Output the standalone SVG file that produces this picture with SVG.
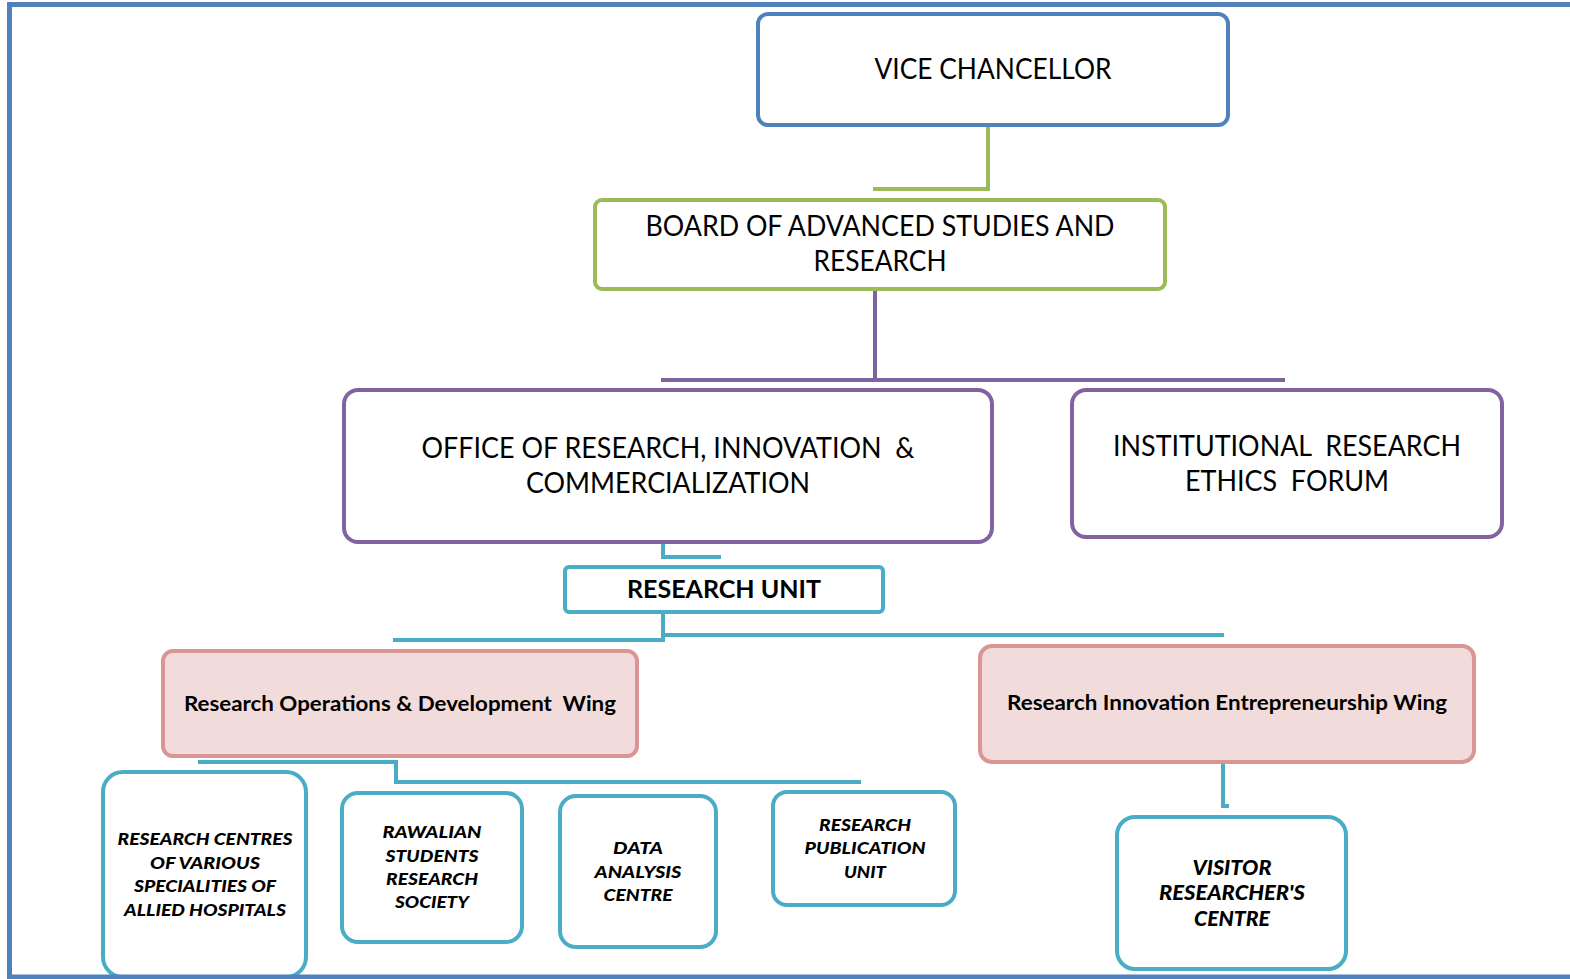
<svg xmlns="http://www.w3.org/2000/svg" width="1570" height="979" viewBox="0 0 1570 979">
  <style>
    .t { font-family: Lato, "Liberation Sans", sans-serif; fill: #000; text-anchor: middle; white-space: pre; }
    .big { font-size: 28px; }
    .unit { font-size: 25px; font-weight: bold; }
    .wing { font-size: 20px; font-weight: bold; }
    .sm { font-size: 17px; font-weight: 900; font-style: italic; }
    .vis { font-size: 20px; font-weight: 900; font-style: italic; }
    .box { fill: #fff; stroke-width: 4; }
    .blue { stroke: #4F81BD; }
    .green { stroke: #9BBB59; }
    .purple { stroke: #8064A2; }
    .cyan { stroke: #4BACC6; }
    .pink { fill: #F2DCDB; stroke: #D99694; stroke-width: 4; }
    .ln { fill: none; stroke-width: 4; }
  </style>

  <rect width="1570" height="979" fill="#fff"/>

  <!-- connectors -->
  <g id="connectors">
    <polyline class="ln green" points="988,126 988,189 873,189"/>
    <line class="ln purple" x1="875" y1="290" x2="875" y2="380"/>
    <line class="ln purple" x1="661" y1="380" x2="1285" y2="380"/>
    <polyline class="ln cyan" points="663,543 663,557 721,557"/>
    <polyline class="ln cyan" points="663,612 663,640 393,640"/>
    <line class="ln cyan" x1="663" y1="635" x2="1224" y2="635"/>
    <polyline class="ln cyan" points="198,762 396,762 396,782 861,782"/>
    <polyline class="ln cyan" points="1223,763 1223,806 1229,806"/>
  </g>

  <g id="vice-chancellor">
    <rect class="box blue" x="758" y="14" width="470" height="111" rx="10"/>
    <text class="t big" x="993" y="79" textLength="237" lengthAdjust="spacingAndGlyphs">VICE CHANCELLOR</text>
  </g>

  <g id="board">
    <rect class="box green" x="595" y="200" width="570" height="89" rx="7"/>
    <text class="t big" x="880" y="236" textLength="469" lengthAdjust="spacingAndGlyphs">BOARD OF ADVANCED STUDIES AND</text>
    <text class="t big" x="880" y="271" textLength="133" lengthAdjust="spacingAndGlyphs">RESEARCH</text>
  </g>

  <g id="office">
    <rect class="box purple" x="344" y="390" width="648" height="152" rx="14"/>
    <text class="t big" x="668" y="458" textLength="493" lengthAdjust="spacingAndGlyphs">OFFICE OF RESEARCH, INNOVATION  &amp;</text>
    <text class="t big" x="668" y="493" textLength="284" lengthAdjust="spacingAndGlyphs">COMMERCIALIZATION</text>
  </g>

  <g id="ethics-forum">
    <rect class="box purple" x="1072" y="390" width="430" height="147" rx="14"/>
    <text class="t big" x="1287" y="456" textLength="348" lengthAdjust="spacingAndGlyphs">INSTITUTIONAL  RESEARCH</text>
    <text class="t big" x="1287" y="491" textLength="204" lengthAdjust="spacingAndGlyphs">ETHICS  FORUM</text>
  </g>

  <g id="research-unit">
    <rect class="box cyan" x="565" y="567" width="318" height="45" rx="4"/>
    <text class="t unit" x="724" y="598" textLength="194" lengthAdjust="spacingAndGlyphs">RESEARCH UNIT</text>
  </g>

  <g id="operations-wing">
    <rect class="pink" x="163" y="651" width="474" height="105" rx="10"/>
    <text class="t wing" x="400" y="711" textLength="432" lengthAdjust="spacingAndGlyphs">Research Operations &amp; Development  Wing</text>
  </g>

  <g id="innovation-wing">
    <rect class="pink" x="980" y="646" width="494" height="116" rx="12"/>
    <text class="t wing" x="1227" y="710" textLength="440" lengthAdjust="spacingAndGlyphs">Research Innovation Entrepreneurship Wing</text>
  </g>

  <g id="research-centres">
    <rect class="box cyan" x="103" y="772" width="203" height="205" rx="20"/>
    <text class="t sm" x="205" y="845" textLength="175" lengthAdjust="spacingAndGlyphs">RESEARCH CENTRES</text>
    <text class="t sm" x="205" y="869" textLength="110" lengthAdjust="spacingAndGlyphs">OF VARIOUS</text>
    <text class="t sm" x="205" y="892" textLength="142" lengthAdjust="spacingAndGlyphs">SPECIALITIES OF</text>
    <text class="t sm" x="205" y="916" textLength="162" lengthAdjust="spacingAndGlyphs">ALLIED HOSPITALS</text>
  </g>

  <g id="students-society">
    <rect class="box cyan" x="342" y="793" width="180" height="149" rx="16"/>
    <text class="t sm" x="432" y="838" textLength="99" lengthAdjust="spacingAndGlyphs">RAWALIAN</text>
    <text class="t sm" x="432" y="862" textLength="93" lengthAdjust="spacingAndGlyphs">STUDENTS</text>
    <text class="t sm" x="432" y="885" textLength="92" lengthAdjust="spacingAndGlyphs">RESEARCH</text>
    <text class="t sm" x="432" y="908" textLength="74" lengthAdjust="spacingAndGlyphs">SOCIETY</text>
  </g>

  <g id="data-centre">
    <rect class="box cyan" x="560" y="796" width="156" height="151" rx="16"/>
    <text class="t sm" x="638" y="854" textLength="50" lengthAdjust="spacingAndGlyphs">DATA</text>
    <text class="t sm" x="638" y="878" textLength="87" lengthAdjust="spacingAndGlyphs">ANALYSIS</text>
    <text class="t sm" x="638" y="901" textLength="69" lengthAdjust="spacingAndGlyphs">CENTRE</text>
  </g>

  <g id="publication-unit">
    <rect class="box cyan" x="773" y="792" width="182" height="113" rx="14"/>
    <text class="t sm" x="865" y="831" textLength="92" lengthAdjust="spacingAndGlyphs">RESEARCH</text>
    <text class="t sm" x="865" y="854" textLength="121" lengthAdjust="spacingAndGlyphs">PUBLICATION</text>
    <text class="t sm" x="865" y="878" textLength="42" lengthAdjust="spacingAndGlyphs">UNIT</text>
  </g>

  <g id="visitor-centre">
    <rect class="box cyan" x="1117" y="817" width="229" height="152" rx="18"/>
    <text class="t vis" x="1232" y="875" textLength="79" lengthAdjust="spacingAndGlyphs">VISITOR</text>
    <text class="t vis" x="1232" y="900" textLength="146" lengthAdjust="spacingAndGlyphs">RESEARCHER'S</text>
    <text class="t vis" x="1232" y="926" textLength="76" lengthAdjust="spacingAndGlyphs">CENTRE</text>
  </g>

  <!-- page frame -->
  <path d="M1570,4.5 H9.5 V977 H1570" fill="none" stroke="#4F81BD" stroke-width="5"/>
</svg>
